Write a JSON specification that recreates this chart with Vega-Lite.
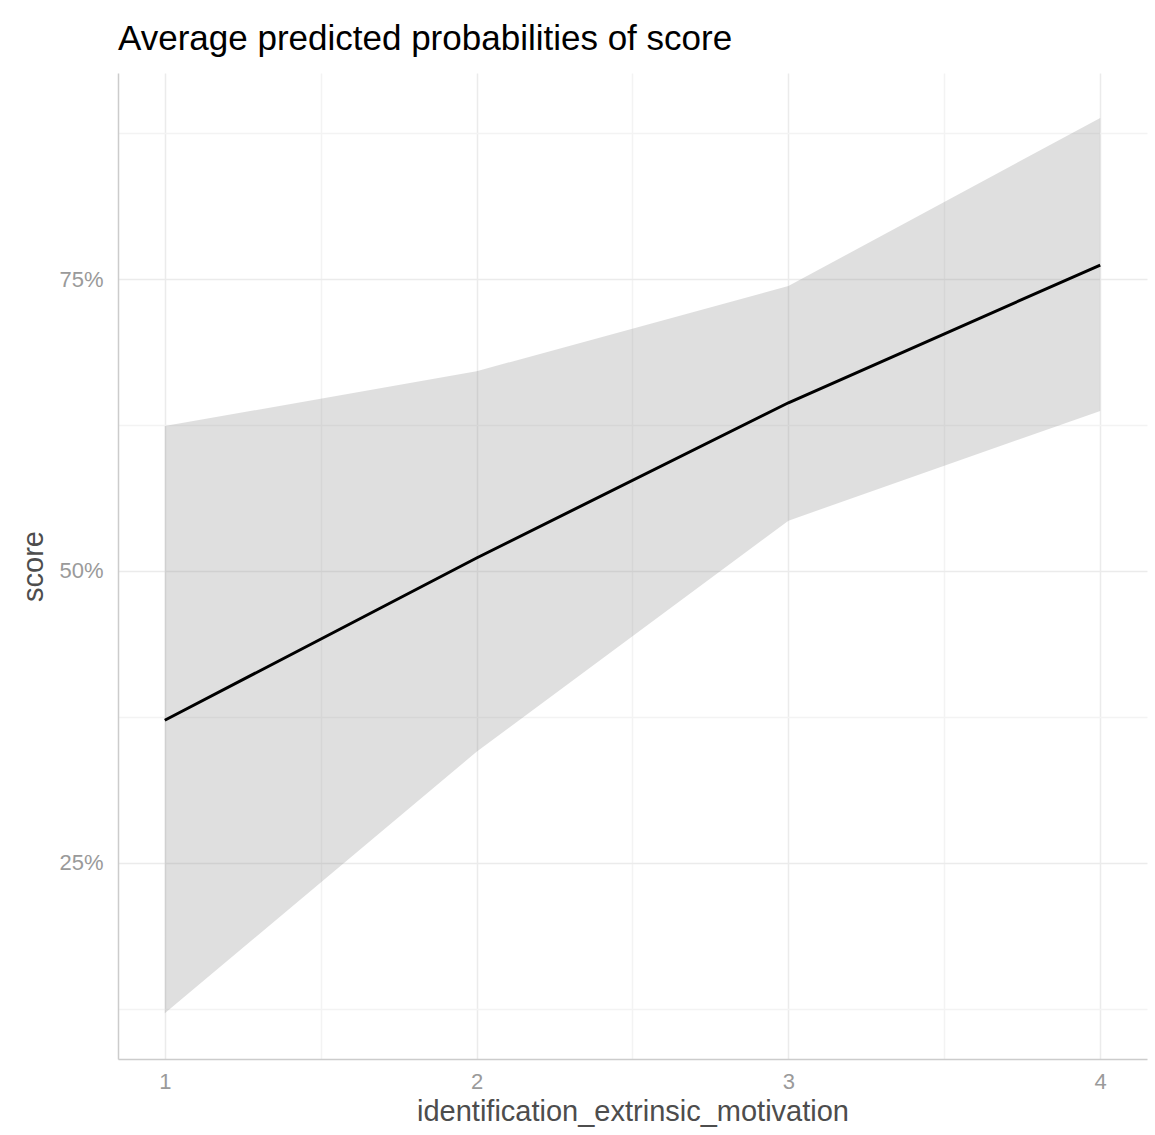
{
  "$schema": "https://vega.github.io/schema/vega-lite/v6.json",
  "autosize": {"type": "none"},
  "padding": {"left": 118, "top": 73, "right": 8, "bottom": 76},
  "width": 1029,
  "height": 986,
  "background": "white",
  "title": {
    "text": "Average predicted probabilities of score",
    "anchor": "start",
    "frame": "group",
    "font": "Liberation Sans",
    "fontSize": 35,
    "fontWeight": "normal",
    "color": "#000000",
    "baseline": "alphabetic",
    "offset": -12
  },
  "config": {
    "view": {"stroke": null},
    "axis": {
      "labelFont": "Liberation Sans",
      "titleFont": "Liberation Sans",
      "labelColor": "#9a9a9a",
      "titleColor": "#4d4d4d",
      "labelFontSize": 22,
      "titleFontSize": 29,
      "titleFontWeight": "normal",
      "tickSize": 0,
      "ticks": false,
      "domainColor": "#cccccc",
      "domainWidth": 1.5,
      "gridWidth": 1.5
    }
  },
  "data": {
    "values": [
      {"x": 1, "predicted": 0.372, "lo": 0.121, "hi": 0.624},
      {"x": 2, "predicted": 0.511, "lo": 0.345, "hi": 0.671},
      {"x": 3, "predicted": 0.644, "lo": 0.543, "hi": 0.744},
      {"x": 4, "predicted": 0.762, "lo": 0.637, "hi": 0.888}
    ]
  },
  "encoding": {
    "x": {
      "field": "x",
      "type": "quantitative",
      "scale": {"domain": [0.85, 4.15], "nice": false, "zero": false},
      "axis": {
        "title": "identification_extrinsic_motivation",
        "values": [1, 1.5, 2, 2.5, 3, 3.5, 4],
        "labelExpr": "datum.value % 1 === 0 ? format(datum.value, 'd') : ''",
        "gridColor": {"condition": {"test": "datum.value % 1 !== 0", "value": "#f3f3f3"}, "value": "#ebebeb"},
        "labelPadding": 12,
        "titlePadding": 5,
        "labelFlush": false
      }
    }
  },
  "layer": [
    {
      "mark": {"type": "area", "color": "#808080", "opacity": 0.25},
      "encoding": {
        "y": {
          "field": "lo",
          "type": "quantitative",
          "scale": {"domain": [0.0818, 0.9265], "nice": false, "zero": false},
          "axis": {
            "title": "score",
            "values": [0.125, 0.25, 0.375, 0.5, 0.625, 0.75, 0.875],
            "format": ".0%",
            "labelExpr": "(datum.value * 1000) % 250 === 0 ? datum.label : ''",
            "gridColor": {"condition": {"test": "(datum.value * 1000) % 250 !== 0", "value": "#f3f3f3"}, "value": "#ebebeb"},
            "labelPadding": 15,
            "titlePadding": 10,
            "labelFlush": false
          }
        },
        "y2": {"field": "hi"}
      }
    },
    {
      "mark": {"type": "line", "color": "#000000", "strokeWidth": 3},
      "encoding": {
        "y": {"field": "predicted", "type": "quantitative"}
      }
    }
  ]
}
